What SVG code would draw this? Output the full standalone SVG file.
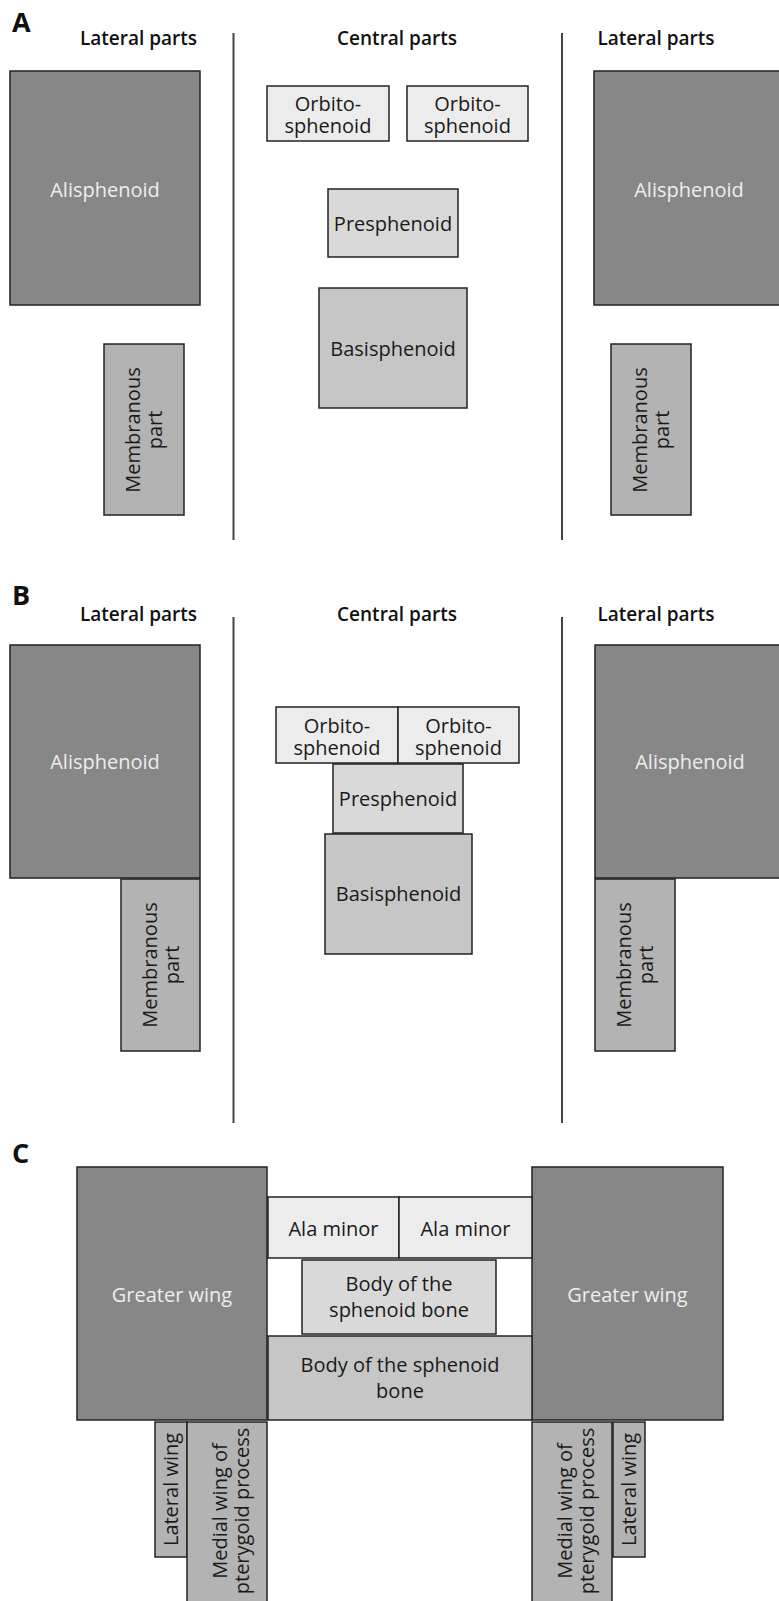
<svg xmlns="http://www.w3.org/2000/svg" width="779" height="1601" viewBox="0 0 779 1601">
<style>
.lbl{font-family:"Open Sans","Liberation Sans",sans-serif;font-weight:700;fill:#111;}
.sec{font-size:27px;}
.hdr{font-size:19px;font-weight:600;text-anchor:middle;}
.t{font-family:"Open Sans","Liberation Sans",sans-serif;font-size:20px;text-anchor:middle;fill:#1a1a1a;}
.tw{fill:#eeeeee;}
rect{stroke:#222;stroke-width:1.5;}
.ali{fill:#878787;}
.mem{fill:#b3b3b3;}
.bas{fill:#c6c6c6;}
.pre{fill:#d9d9d9;}
.orb{fill:#ececec;}
.div{stroke:#444;stroke-width:2;}
</style>

<g id="labels">
<text class="lbl sec" x="12" y="32">A</text>
<text class="lbl hdr" x="138.5" y="45">Lateral parts</text>
<text class="lbl hdr" x="397" y="45">Central parts</text>
<text class="lbl hdr" x="656" y="45">Lateral parts</text>
<text class="lbl sec" x="12" y="605">B</text>
<text class="lbl hdr" x="138.5" y="621">Lateral parts</text>
<text class="lbl hdr" x="397" y="621">Central parts</text>
<text class="lbl hdr" x="656" y="621">Lateral parts</text>
<text class="lbl sec" x="12" y="1163">C</text>
</g>

<g id="connectors">
<line class="div" x1="233.5" y1="33" x2="233.5" y2="540"/>
<line class="div" x1="562" y1="33" x2="562" y2="540"/>
<line class="div" x1="233.5" y1="617" x2="233.5" y2="1123"/>
<line class="div" x1="562" y1="617" x2="562" y2="1123"/>
</g>

<!-- Section A -->
<g id="a-alisphenoid-left"><rect class="ali" x="10" y="71" width="190" height="234"/><text class="t tw" x="105" y="197">Alisphenoid</text></g>
<g id="a-alisphenoid-right"><rect class="ali" x="594" y="71" width="190" height="234"/><text class="t tw" x="689" y="197">Alisphenoid</text></g>
<g id="a-orbito-left"><rect class="orb" x="267" y="86" width="122" height="55"/><text class="t" x="328" y="111">Orbito-<tspan x="328" y="133">sphenoid</tspan></text></g>
<g id="a-orbito-right"><rect class="orb" x="407" y="86" width="121" height="55"/><text class="t" x="467.5" y="111">Orbito-<tspan x="467.5" y="133">sphenoid</tspan></text></g>
<g id="a-presphenoid"><rect class="pre" x="328" y="189" width="130" height="68"/><text class="t" x="393" y="231">Presphenoid</text></g>
<g id="a-basisphenoid"><rect class="bas" x="319" y="288" width="148" height="120"/><text class="t" x="393" y="356">Basisphenoid</text></g>
<g id="a-membranous-left"><rect class="mem" x="104" y="344" width="80" height="171"/><text class="t" transform="translate(144,430) rotate(-90)"><tspan x="0" y="-4">Membranous</tspan><tspan x="0" y="18">part</tspan></text></g>
<g id="a-membranous-right"><rect class="mem" x="611" y="344" width="80" height="171"/><text class="t" transform="translate(651,430) rotate(-90)"><tspan x="0" y="-4">Membranous</tspan><tspan x="0" y="18">part</tspan></text></g>

<!-- Section B -->
<g id="b-alisphenoid-left"><rect class="ali" x="10" y="645" width="190" height="233"/><text class="t tw" x="105" y="769">Alisphenoid</text></g>
<g id="b-alisphenoid-right"><rect class="ali" x="595" y="645" width="190" height="233"/><text class="t tw" x="690" y="769">Alisphenoid</text></g>
<g id="b-membranous-left"><rect class="mem" x="121" y="879" width="79" height="172"/><text class="t" transform="translate(160.5,965) rotate(-90)"><tspan x="0" y="-4">Membranous</tspan><tspan x="0" y="18">part</tspan></text></g>
<g id="b-membranous-right"><rect class="mem" x="595" y="879" width="80" height="172"/><text class="t" transform="translate(635,965) rotate(-90)"><tspan x="0" y="-4">Membranous</tspan><tspan x="0" y="18">part</tspan></text></g>
<g id="b-orbito-left"><rect class="orb" x="276" y="707" width="122" height="56"/><text class="t" x="337" y="733">Orbito-<tspan x="337" y="755">sphenoid</tspan></text></g>
<g id="b-orbito-right"><rect class="orb" x="398" y="707" width="121" height="56"/><text class="t" x="458.5" y="733">Orbito-<tspan x="458.5" y="755">sphenoid</tspan></text></g>
<g id="b-presphenoid"><rect class="pre" x="333" y="764" width="130" height="69"/><text class="t" x="398" y="806">Presphenoid</text></g>
<g id="b-basisphenoid"><rect class="bas" x="325" y="834" width="147" height="120"/><text class="t" x="398.5" y="901">Basisphenoid</text></g>

<!-- Section C -->
<g id="c-greater-wing-left"><rect class="ali" x="77" y="1167" width="190" height="253"/><text class="t tw" x="172" y="1302">Greater wing</text></g>
<g id="c-greater-wing-right"><rect class="ali" x="532" y="1167" width="191" height="253"/><text class="t tw" x="627.5" y="1302">Greater wing</text></g>
<g id="c-ala-minor-left"><rect class="orb" x="268" y="1197" width="131" height="61"/><text class="t" x="333.5" y="1236">Ala minor</text></g>
<g id="c-ala-minor-right"><rect class="orb" x="399" y="1197" width="133" height="61"/><text class="t" x="465.5" y="1236">Ala minor</text></g>
<g id="c-body-upper"><rect class="pre" x="302" y="1260" width="194" height="74"/><text class="t" x="399" y="1291">Body of the<tspan x="399" y="1317">sphenoid bone</tspan></text></g>
<g id="c-body-lower"><rect class="bas" x="268" y="1336" width="264" height="84"/><text class="t" x="400" y="1372">Body of the sphenoid<tspan x="400" y="1398">bone</tspan></text></g>
<g id="c-lateral-wing-left"><rect class="mem" x="155" y="1422" width="32" height="135"/><text class="t" transform="translate(171,1489.5) rotate(-90)" y="7">Lateral wing</text></g>
<g id="c-medial-wing-left"><rect class="mem" x="187" y="1422" width="80" height="182"/><text class="t" transform="translate(227,1511) rotate(-90)"><tspan x="0" y="0">Medial wing of</tspan><tspan x="0" y="22">pterygoid process</tspan></text></g>
<g id="c-medial-wing-right"><rect class="mem" x="532" y="1422" width="80" height="182"/><text class="t" transform="translate(572,1511) rotate(-90)"><tspan x="0" y="0">Medial wing of</tspan><tspan x="0" y="22">pterygoid process</tspan></text></g>
<g id="c-lateral-wing-right"><rect class="mem" x="613" y="1422" width="32" height="135"/><text class="t" transform="translate(629,1489.5) rotate(-90)" y="7">Lateral wing</text></g>
</svg>
